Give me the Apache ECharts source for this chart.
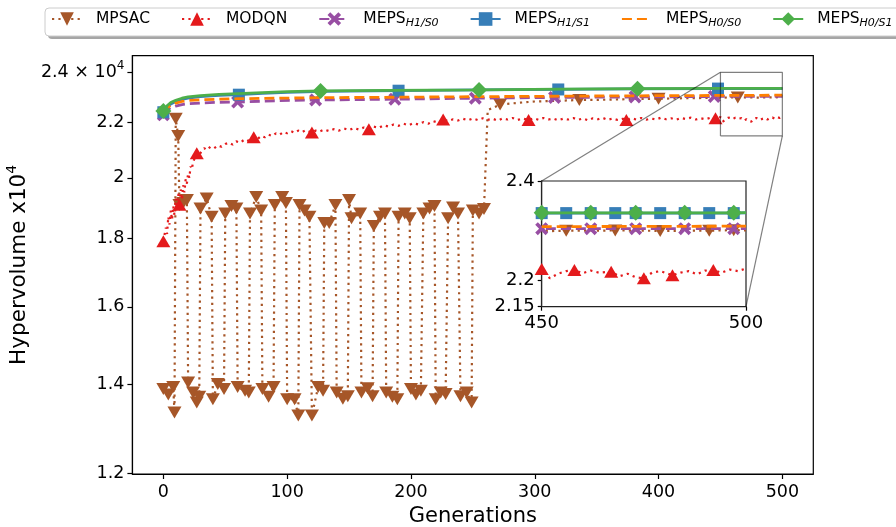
<!DOCTYPE html>
<html>
<head>
<meta charset="utf-8">
<script src="https://cdn.jsdelivr.net/npm/echarts@6/dist/echarts.min.js"></script>
<style>
  html, body { margin: 0; padding: 0; background: #fff; }
  #chart { width: 896px; height: 527px; }
</style>
</head>
<body>
<div id="chart"></div>
<script>
// ---- data: generation -> hypervolume ----
const mpsacGen = [0, 4, 8, 9, 10, 12, 13, 16, 19, 20, 24, 27, 29, 30, 35, 39, 40, 44, 49, 50, 55, 59,
  60, 66, 69, 70, 75, 79, 80, 85, 89, 90, 96, 99, 100, 106, 109, 110, 114, 118, 120, 125, 129,
  130, 134, 139, 140, 145, 149, 150, 152, 159, 160, 165, 169, 170, 175, 179, 180, 185, 189,
  190, 195, 199, 200, 204, 208, 210, 215, 219, 220, 224, 228, 230, 234, 238, 240, 245, 249,
  250, 255, 259, 262, 272, 285, 300, 320, 336, 360, 380, 400, 420, 440, 452, 456, 464, 468,
  479, 491, 497, 500];
const mpsacVal = [13880, 13750, 13930, 13330, 22150, 21500, 19080, 19150, 19250, 14040, 13800, 13560,
  13700, 18970, 19300, 18700, 13640, 14000, 13880, 18800, 19050, 18970, 13930, 13840, 13800,
  18800, 19350, 18900, 13880, 13700, 13930, 19080, 19350, 19150, 13640, 13640, 13260, 19080,
  18900, 18700, 13260, 13930, 13840, 18500, 18500, 19080, 13800, 13650, 13710, 19250, 18650,
  18800, 13800, 13900, 13710, 18400, 18700, 18800, 13800, 13700, 13640, 18700, 18800, 18650,
  13880, 13750, 13840, 18800, 18970, 19050, 13640, 13800, 13760, 18650, 19000, 18800, 13710,
  13800, 13560, 18900, 18800, 18950, 22480, 22700, 22760, 22820, 22850, 22880, 22890, 22920,
  22930, 22950, 22960, 22970, 22980, 22980, 22985, 22975, 22980, 22990, 22985];
const mpsacMarks = [0, 4, 8, 9, 10, 12, 13, 16, 19, 20, 24, 27, 29, 30, 35, 39, 40, 44, 49, 50, 55, 59,
  60, 66, 69, 70, 75, 79, 80, 85, 89, 90, 96, 99, 100, 106, 109, 110, 114, 118, 120, 125, 129,
  130, 134, 139, 140, 145, 149, 150, 152, 159, 160, 165, 169, 170, 175, 179, 180, 185, 189,
  190, 195, 199, 200, 204, 208, 210, 215, 219, 220, 224, 228, 230, 234, 238, 240, 245, 249,
  250, 255, 259, 272, 336, 400, 464];
const mpsacInsetMarks = [456, 468, 479, 491, 497];

const modqnGen = [0, 2, 3, 4, 5, 6, 7, 8, 9, 10, 11, 12, 13, 14, 15, 16, 17, 18, 19, 20, 21, 22, 23,
  24, 25, 27, 29, 31, 33, 35, 38, 41, 44, 47, 50, 53, 56, 59, 62, 65, 68, 70, 73, 76, 79, 82,
  85, 88, 91, 94, 97, 100, 103, 106, 109, 112, 115, 118, 120, 123, 126, 130, 134, 138, 142,
  146, 150, 154, 158, 162, 166, 170, 174, 178, 182, 186, 190, 194, 198, 202, 206, 210, 214,
  218, 222, 226, 230, 234, 238, 242, 246, 250, 254, 258, 262, 266, 270, 274, 278, 282, 286,
  290, 295, 299, 303, 307, 311, 315, 319, 323, 327, 331, 335, 339, 343, 347, 351, 355, 359,
  363, 367, 371, 374, 378, 382, 386, 390, 394, 398, 402, 406, 410, 414, 418, 422, 426, 430,
  434, 438, 442, 446, 448, 450, 452, 454, 456, 458, 460, 462, 464, 467, 469, 471, 473, 475,
  477, 479, 482, 484, 486, 488, 490, 492, 494, 496, 498, 500];
const modqnVal = [17920, 18350, 18150, 18700, 18450, 18900, 18600, 19050, 18750, 19300, 18950, 19450,
  19090, 19600, 19250, 19750, 19500, 19950, 19800, 20150, 20000, 20400, 20300, 20550, 20600,
  20870, 20800, 20950, 21050, 20980, 21100, 21050, 21150, 21100, 21200, 21250, 21180, 21300,
  21250, 21350, 21300, 21400, 21450, 21380, 21500, 21450, 21550, 21500, 21600, 21550, 21650,
  21600, 21680, 21620, 21700, 21640, 21720, 21660, 21630, 21700, 21660, 21740, 21680, 21760,
  21700, 21780, 21720, 21800, 21740, 21820, 21750, 21850, 21800, 21900, 21850, 21930, 21880,
  21960, 21900, 21980, 21930, 22020, 21960, 22060, 22000, 22120, 22060, 22130, 22080, 22150,
  22090, 22160, 22100, 22170, 22110, 22150, 22080, 22160, 22120, 22180, 22100, 22160, 22100,
  22170, 22110, 22180, 22120, 22160, 22090, 22150, 22120, 22180, 22110, 22160, 22090, 22170,
  22130, 22180, 22110, 22160, 22100, 22150, 22100, 22170, 22120, 22180, 22110, 22160, 22120,
  22190, 22130, 22170, 22110, 22180, 22140, 22190, 22120, 22170, 22130, 22190, 22170, 22130,
  22220, 22040, 22130, 22180, 22200, 22140, 22190, 22150, 22170, 22080, 22130, 22060, 22040,
  22150, 22180, 22100, 22150, 22180, 22120, 22190, 22200, 22150, 22210, 22180, 22230];
const modqnMarks = [0, 13, 27, 73, 120, 166, 226, 295, 374, 446];
const modqnInsetMarks = [450, 458, 467, 475, 482, 492];

const h1s0Gen = [0, 3, 6, 10, 15, 20, 30, 45, 60, 90, 123, 187, 252, 316, 381, 440, 445, 450, 462, 473, 485, 497, 500];
const h1s0Val = [22300, 22480, 22580, 22640, 22700, 22730, 22760, 22790, 22800, 22850, 22880, 22910,
  22950, 22980, 23000, 23015, 23020, 23020, 23020, 23020, 23020, 23020, 23020];
const h1s0Marks = [0, 60, 123, 187, 252, 316, 381, 445];
const h1s0InsetMarks = [450, 462, 473, 485, 497];

const h1s1Gen = [0, 3, 6, 10, 15, 20, 30, 45, 61, 80, 100, 130, 190, 255, 319, 383, 440, 448, 450, 456,
  462, 468, 473, 479, 485, 491, 497, 500];
const h1s1Val = [22400, 22600, 22720, 22820, 22900, 22950, 23010, 23060, 23090, 23140, 23180, 23220,
  23250, 23280, 23300, 23320, 23330, 23335, 23335, 23335, 23335, 23335, 23335, 23335, 23335,
  23335, 23335, 23340];
const h1s1Marks = [0, 61, 190, 319, 448];
const h1s1InsetMarks = [450, 456, 462, 468, 473, 479, 485, 491, 497];

const h0s0Gen = [0, 3, 6, 10, 15, 20, 30, 45, 60, 90, 125, 190, 250, 320, 400, 450, 500];
const h0s0Val = [22380, 22550, 22680, 22760, 22820, 22860, 22890, 22910, 22930, 22950, 22970, 22990,
  23010, 23030, 23050, 23060, 23070];

const h0s1Gen = [0, 3, 6, 10, 15, 20, 30, 45, 60, 80, 100, 127, 180, 255, 320, 383, 440, 450, 462, 473, 485, 497, 500];
const h0s1Val = [22450, 22650, 22780, 22870, 22950, 23000, 23050, 23100, 23130, 23170, 23210, 23240,
  23260, 23280, 23310, 23330, 23340, 23340, 23340, 23340, 23340, 23340, 23345];
const h0s1Marks = [0, 127, 255, 383];
const h0s1InsetMarks = [450, 462, 473, 485, 497];

const xTicks = [0, 100, 200, 300, 400, 500];
const yTicks = [12000, 14000, 16000, 18000, 20000, 22000, 24000];
const yTickLabels = ['1.2', '1.4', '1.6', '1.8', '2', '2.2', '{m|2.4 × 10}{sup|4}'];
const insetXTicks = [450, 500];
const insetYTicks = [21500, 22000, 24000];
const insetYTickLabels = ['2.15', '2.2', '2.4'];
const mainXRange = [-25, 525];
const mainYRange = [11985, 24700];
const insetXRange = [450, 500];
const insetYRange = [21500, 24000];

// ---- chart ----
const FONT = 'DejaVu Sans';
const lg = v => Math.log10(v);
const downTri = 'path://M0,0L10,0L5,8.66Z';
const upTri = 'path://M5,0L10,8.66L0,8.66Z';
const xMark = 'path://M2,0L5,3L8,0L10,2L7,5L10,8L8,10L5,7L2,10L0,8L3,5L0,2Z';

const defs = [
  { name: 'MPSAC', gen: mpsacGen, val: mpsacVal, marks: mpsacMarks, inset: mpsacInsetMarks,
    color: '#a65628', width: 2.2, type: [2.2, 4.2], symbol: downTri, size: [14, 12] },
  { name: 'MODQN', gen: modqnGen, val: modqnVal, marks: modqnMarks, inset: modqnInsetMarks,
    color: '#e41a1c', width: 2.2, type: [2.2, 4.2], symbol: upTri, size: [14, 12] },
  { name: 'MEPS H1/S0', gen: h1s0Gen, val: h1s0Val, marks: h1s0Marks, inset: h1s0InsetMarks,
    color: '#984ea3', width: 2.8, type: [10, 5], symbol: xMark, size: 13 },
  { name: 'MEPS H1/S1', gen: h1s1Gen, val: h1s1Val, marks: h1s1Marks, inset: h1s1InsetMarks,
    color: '#377eb8', width: 2.8, type: 'solid', symbol: 'rect', size: 12 },
  { name: 'MEPS H0/S0', gen: h0s0Gen, val: h0s0Val, marks: [], inset: [],
    color: '#ff7f00', width: 2.8, type: [10, 5], symbol: 'none', size: 0 },
  { name: 'MEPS H0/S1', gen: h0s1Gen, val: h0s1Val, marks: h0s1Marks, inset: h0s1InsetMarks,
    color: '#4daf4a', width: 2.8, type: 'solid', symbol: 'diamond', size: 16 }
];

function buildData(d, marks, from) {
  const out = [];
  d.gen.forEach((g, i) => {
    if (g < from) return;
    out.push({ value: [g, lg(d.val[i])], symbol: marks.includes(g) ? d.symbol : 'none' });
  });
  return out;
}

function makeSeries(d, i, grid) {
  const inset = grid === 1;
  return {
    type: 'line',
    name: d.name,
    xAxisIndex: grid,
    yAxisIndex: grid,
    data: buildData(d, inset ? d.inset : d.marks, inset ? 440 : -1),
    symbol: d.symbol,
    symbolSize: d.size,
    showAllSymbol: true,
    clip: true,
    z: 3 + i,
    lineStyle: { color: d.color, width: d.width, type: d.type, cap: 'butt' },
    itemStyle: { color: d.color, opacity: 1 },
    emphasis: { disabled: true }
  };
}

const series = [];
defs.forEach((d, i) => series.push(makeSeries(d, i, 0)));
defs.forEach((d, i) => series.push(makeSeries(d, i, 1)));
// zoom box on the main plot
series.push({
  type: 'line',
  xAxisIndex: 0,
  yAxisIndex: 0,
  silent: true,
  symbol: 'none',
  z: 10,
  lineStyle: { color: 'rgba(0,0,0,0.5)', width: 1.2 },
  data: [
    [insetXRange[0], lg(insetYRange[0])], [insetXRange[1], lg(insetYRange[0])],
    [insetXRange[1], lg(insetYRange[1])], [insetXRange[0], lg(insetYRange[1])],
    [insetXRange[0], lg(insetYRange[0])]
  ]
});

const axisText = { color: '#000', fontFamily: FONT, fontSize: 17.5 };
const blackLine = { show: true, onZero: false, lineStyle: { color: '#000', width: 1.2 } };

const chart = echarts.init(document.getElementById('chart'));
chart.setOption({
  animation: false,
  backgroundColor: '#fff',
  grid: [
    { left: 132.4, right: 82.7, top: 55.7, bottom: 53, outerBoundsMode: 'none', show: true, borderColor: '#000', borderWidth: 1.2, backgroundColor: '#fff' },
    { left: 541.7, top: 181, width: 204.3, height: 125.7, outerBoundsMode: 'none', show: true, borderColor: '#222', borderWidth: 1.2, backgroundColor: '#fff', z: 1 }
  ],
  legend: {
    data: defs.map(d => d.symbol === 'none' ? { name: d.name, itemStyle: { opacity: 0 } } : d.name),
    left: 51,
    top: 11,
    width: 1200,
    padding: 0,
    itemWidth: 30,
    itemHeight: 17,
    itemGap: 31,
    z: 6,
    textStyle: {
      color: '#000',
      fontFamily: FONT,
      fontSize: 15.5,
      padding: [0, 0, 0, 9],
      rich: {
        b: { fontFamily: FONT, fontSize: 15.5, color: '#000', lineHeight: 20 },
        s: { fontFamily: FONT, fontSize: 11, fontStyle: 'italic', color: '#000', verticalAlign: 'bottom' }
      }
    },
    formatter: name => {
      const p = name.split(' ');
      return p.length > 1 ? '{b|' + p[0] + '}{s|' + p[1] + '}' : '{b|' + name + '}';
    }
  },
  xAxis: [
    {
      type: 'value', gridIndex: 0, min: mainXRange[0], max: mainXRange[1],
      name: 'Generations', nameLocation: 'middle', nameGap: 29,
      nameTextStyle: { color: '#000', fontFamily: FONT, fontSize: 21 },
      axisLine: blackLine,
      axisTick: { show: true, length: 5, customValues: xTicks, lineStyle: { color: '#000', width: 1.2 } },
      axisLabel: Object.assign({ margin: 9, customValues: xTicks }, axisText),
      splitLine: { show: false }
    },
    {
      type: 'value', gridIndex: 1, min: insetXRange[0], max: insetXRange[1],
      axisLine: blackLine,
      axisTick: { show: true, length: 4, customValues: insetXTicks, lineStyle: { color: '#000', width: 1.2 } },
      axisLabel: Object.assign({ margin: 8, customValues: insetXTicks }, axisText, { fontSize: 18 }),
      splitLine: { show: false }
    }
  ],
  yAxis: [
    {
      type: 'value', gridIndex: 0, min: lg(mainYRange[0]), max: lg(mainYRange[1]),
      name: '{a|Hypervolume x10}{b|4}', nameLocation: 'middle', nameGap: 90, nameRotate: 90,
      nameTextStyle: {
        color: '#000', fontFamily: FONT, fontSize: 21.5,
        rich: {
          a: { fontFamily: FONT, fontSize: 21.5, color: '#000', lineHeight: 28 },
          b: { fontFamily: FONT, fontSize: 14, color: '#000', verticalAlign: 'top' }
        }
      },
      axisLine: blackLine,
      axisTick: { show: true, length: 5, customValues: yTicks.map(lg), lineStyle: { color: '#000', width: 1.2 } },
      axisLabel: Object.assign({
        margin: 8,
        customValues: yTicks.map(lg),
        formatter: v => yTickLabels[yTicks.indexOf(Math.round(Math.pow(10, v)))],
        rich: {
          m: { fontFamily: FONT, fontSize: 17.5, color: '#000', lineHeight: 24 },
          sup: { fontFamily: FONT, fontSize: 12, color: '#000', verticalAlign: 'top' }
        }
      }, axisText),
      splitLine: { show: false }
    },
    {
      type: 'value', gridIndex: 1, min: lg(insetYRange[0]), max: lg(insetYRange[1]),
      axisLine: blackLine,
      axisTick: { show: true, length: 4, customValues: insetYTicks.map(lg), lineStyle: { color: '#000', width: 1.2 } },
      axisLabel: Object.assign({
        margin: 7,
        customValues: insetYTicks.map(lg),
        formatter: v => insetYTickLabels[insetYTicks.indexOf(Math.round(Math.pow(10, v)))]
      }, axisText, { fontSize: 18 }),
      splitLine: { show: false }
    }
  ],
  series: series
});

// legend frame and the lines joining the zoom box to the inset
const boxTL = chart.convertToPixel({ gridIndex: 0 }, [insetXRange[0], lg(insetYRange[1])]);
const boxBR = chart.convertToPixel({ gridIndex: 0 }, [insetXRange[1], lg(insetYRange[0])]);
const insTL = chart.convertToPixel({ gridIndex: 1 }, [insetXRange[0], lg(insetYRange[1])]);
const insBR = chart.convertToPixel({ gridIndex: 1 }, [insetXRange[1], lg(insetYRange[0])]);

chart.setOption({
  graphic: [
    { type: 'rect', z: 1, shape: { x: 48, y: 11, width: 880, height: 28, r: 4 }, style: { fill: 'rgba(0,0,0,0.35)' } },
    { type: 'rect', z: 2, shape: { x: 45, y: 8, width: 880, height: 28, r: 4 }, style: { fill: '#fff', stroke: '#cccccc', lineWidth: 1 } },
    { type: 'line', z: 20, shape: { x1: boxTL[0], y1: boxTL[1], x2: insTL[0], y2: insTL[1] }, style: { stroke: 'rgba(0,0,0,0.5)', lineWidth: 1.2 } },
    { type: 'line', z: 20, shape: { x1: boxBR[0], y1: boxBR[1], x2: insBR[0], y2: insBR[1] }, style: { stroke: 'rgba(0,0,0,0.5)', lineWidth: 1.2 } }
  ]
});
window.addEventListener('resize', () => chart.resize());
</script>
</body>
</html>
